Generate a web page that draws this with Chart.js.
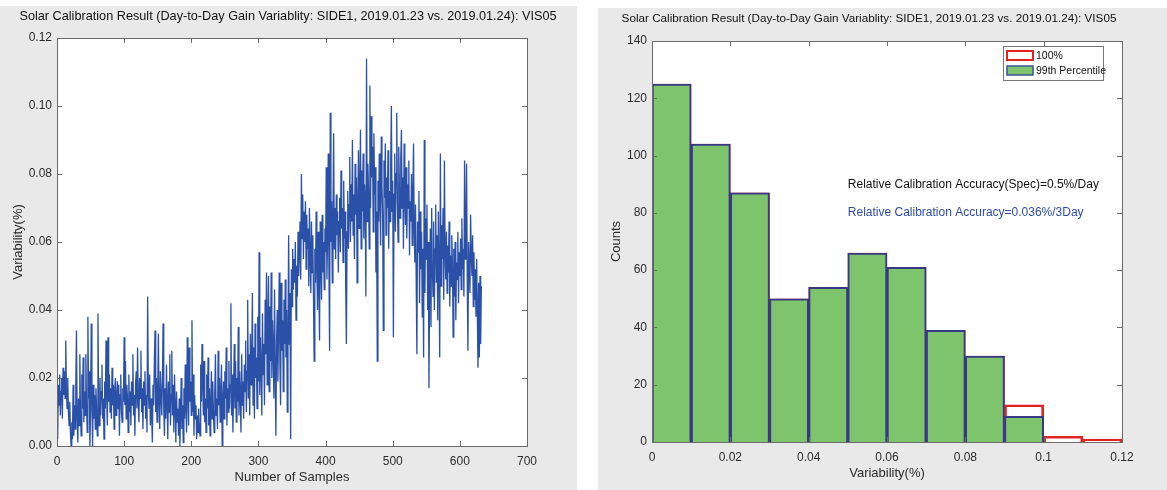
<!DOCTYPE html>
<html>
<head>
<meta charset="utf-8">
<script src="https://cdn.jsdelivr.net/npm/chart.js@4.4.1/dist/chart.umd.min.js"></script>
<style>
  html, body { margin: 0; padding: 0; background: #fff; }
  body { width: 1167px; height: 490px; position: relative; overflow: hidden; }
  .panel { position: absolute; background: #e9e9e9; }
  .panel canvas { display: block; }
  #left { left: 0; top: 6px; width: 577px; height: 484px; }
  #right { left: 598px; top: 8px; width: 569px; height: 482px; }
</style>
</head>
<body>
<div class="panel" id="left"><canvas id="lineChart" width="577" height="484"></canvas></div>
<div class="panel" id="right"><canvas id="histChart" width="569" height="482"></canvas></div>
<script>
const TITLE = "Solar Calibration Result (Day-to-Day Gain Variablity: SIDE1, 2019.01.23 vs. 2019.01.24): VIS05";

// day-to-day variability per sample (%)
const variability = [
  0.002, 0.018, 0.012, 0.021, 0.009, 0.016, 0.020, 0.008, 0.023, 0.015, 0.022, 0.014, 0.031, 0.017, 0.011, 0.020, 0.010, 0.006, 0.013, 0.004,
  0.000, 0.007, 0.002, 0.018, 0.003, 0.012, 0.005, 0.018, 0.034, 0.008, 0.001, 0.014, 0.006, 0.027, 0.009, 0.003, 0.021, 0.011, 0.026, 0.007,
  0.016, 0.009, 0.027, 0.012, 0.004, 0.038, 0.014, 0.022, 0.000, 0.010, 0.036, 0.013, 0.000, 0.018, 0.008, 0.015, 0.005, 0.017, 0.011, 0.003,
  0.039, 0.012, 0.006, 0.020, 0.009, 0.016, 0.024, 0.008, 0.014, 0.002, 0.019, 0.011, 0.031, 0.015, 0.006, 0.032, 0.013, 0.021, 0.010, 0.017,
  0.008, 0.023, 0.012, 0.018, 0.005, 0.016, 0.020, 0.009, 0.014, 0.019, 0.011, 0.018, 0.003, 0.015, 0.021, 0.010, 0.007, 0.017, 0.013, 0.032,
  0.012, 0.025, 0.008, 0.018, 0.014, 0.004, 0.021, 0.010, 0.016, 0.006, 0.019, 0.012, 0.027, 0.009, 0.015, 0.003, 0.018, 0.022, 0.011, 0.029,
  0.013, 0.007, 0.020, 0.014, 0.028, 0.010, 0.017, 0.005, 0.019, 0.012, 0.022, 0.008, 0.015, 0.004, 0.044, 0.016, 0.011, 0.021, 0.006, 0.014,
  0.009, 0.001, 0.018, 0.012, 0.025, 0.034, 0.010, 0.020, 0.007, 0.016, 0.033, 0.012, 0.005, 0.022, 0.015, 0.009, 0.019, 0.036, 0.011, 0.003,
  0.017, 0.008, 0.024, 0.013, 0.002, 0.019, 0.010, 0.027, 0.006, 0.015, 0.028, 0.009, 0.018, 0.004, 0.021, 0.012, 0.001, 0.016, 0.007, 0.011,
  0.003, 0.014, 0.000, 0.009, 0.020, 0.005, 0.012, 0.001, 0.017, 0.008, 0.024, 0.011, 0.004, 0.032, 0.015, 0.006, 0.029, 0.013, 0.019, 0.009,
  0.037, 0.010, 0.021, 0.003, 0.015, 0.008, 0.012, 0.002, 0.009, 0.004, 0.011, 0.006, 0.003, 0.024, 0.013, 0.030, 0.018, 0.009, 0.025, 0.007,
  0.014, 0.004, 0.021, 0.011, 0.026, 0.006, 0.017, 0.003, 0.013, 0.022, 0.008, 0.019, 0.010, 0.004, 0.016, 0.027, 0.009, 0.014, 0.005, 0.028,
  0.012, 0.020, 0.007, 0.016, 0.024, 0.000, 0.013, 0.019, 0.008, 0.022, 0.014, 0.029, 0.006, 0.017, 0.010, 0.025, 0.011, 0.018, 0.042, 0.009,
  0.021, 0.004, 0.016, 0.030, 0.011, 0.025, 0.007, 0.020, 0.013, 0.035, 0.009, 0.022, 0.015, 0.004, 0.027, 0.012, 0.019, 0.008, 0.024, 0.016,
  0.031, 0.010, 0.022, 0.043, 0.014, 0.027, 0.009, 0.033, 0.018, 0.025, 0.045, 0.012, 0.029, 0.008, 0.036, 0.020, 0.026, 0.011, 0.038, 0.019,
  0.057, 0.015, 0.032, 0.024, 0.009, 0.039, 0.021, 0.030, 0.012, 0.043, 0.027, 0.051, 0.018, 0.035, 0.050, 0.016, 0.041, 0.025, 0.051, 0.020,
  0.037, 0.029, 0.014, 0.046, 0.022, 0.003, 0.031, 0.040, 0.019, 0.034, 0.051, 0.024, 0.012, 0.048, 0.028, 0.037, 0.016, 0.043, 0.030, 0.049,
  0.026, 0.040, 0.010, 0.033, 0.062, 0.030, 0.045, 0.002, 0.052, 0.041, 0.058, 0.046, 0.055, 0.048, 0.060, 0.037, 0.053, 0.044, 0.063, 0.050,
  0.057, 0.066, 0.049, 0.080, 0.061, 0.074, 0.055, 0.069, 0.060, 0.072, 0.052, 0.068, 0.058, 0.064, 0.047, 0.070, 0.056, 0.045, 0.066, 0.051,
  0.062, 0.044, 0.025, 0.058, 0.048, 0.069, 0.053, 0.040, 0.063, 0.047, 0.031, 0.066, 0.055, 0.043, 0.068, 0.051, 0.060, 0.046, 0.064, 0.057,
  0.082, 0.049, 0.061, 0.086, 0.052, 0.028, 0.098, 0.060, 0.072, 0.048, 0.067, 0.092, 0.058, 0.070, 0.055, 0.074, 0.062, 0.069, 0.051, 0.066,
  0.073, 0.057, 0.081, 0.064, 0.070, 0.054, 0.078, 0.061, 0.069, 0.047, 0.030, 0.063, 0.075, 0.058, 0.071, 0.085, 0.060, 0.077, 0.066, 0.090,
  0.062, 0.074, 0.055, 0.083, 0.068, 0.079, 0.048, 0.071, 0.087, 0.064, 0.076, 0.093, 0.058, 0.081, 0.069, 0.086, 0.061, 0.077, 0.072, 0.044,
  0.114, 0.066, 0.083, 0.075, 0.058, 0.106, 0.070, 0.097, 0.079, 0.088, 0.063, 0.092, 0.074, 0.082, 0.051, 0.069, 0.025, 0.078, 0.066, 0.086,
  0.071, 0.059, 0.091, 0.077, 0.068, 0.034, 0.084, 0.073, 0.089, 0.062, 0.079, 0.070, 0.087, 0.058, 0.075, 0.066, 0.083, 0.100, 0.069, 0.078,
  0.032, 0.074, 0.086, 0.063, 0.080, 0.098, 0.071, 0.060, 0.088, 0.076, 0.067, 0.085, 0.093, 0.070, 0.079, 0.058, 0.089, 0.073, 0.065, 0.082,
  0.061, 0.077, 0.070, 0.084, 0.056, 0.072, 0.066, 0.080, 0.059, 0.074, 0.089, 0.063, 0.054, 0.071, 0.048, 0.027, 0.066, 0.057, 0.075, 0.042,
  0.069, 0.052, 0.063, 0.038, 0.058, 0.026, 0.090, 0.045, 0.067, 0.055, 0.071, 0.040, 0.060, 0.017, 0.049, 0.064, 0.035, 0.070, 0.053, 0.044,
  0.066, 0.040, 0.058, 0.071, 0.048, 0.062, 0.037, 0.069, 0.052, 0.026, 0.086, 0.047, 0.065, 0.055, 0.070, 0.043, 0.084, 0.057, 0.049, 0.063,
  0.045, 0.059, 0.051, 0.066, 0.041, 0.056, 0.047, 0.062, 0.053, 0.032, 0.058, 0.044, 0.060, 0.037, 0.054, 0.049, 0.063, 0.042, 0.057, 0.050,
  0.061, 0.046, 0.067, 0.052, 0.058, 0.044, 0.084, 0.055, 0.063, 0.083, 0.049, 0.028, 0.060, 0.053, 0.045, 0.068, 0.056, 0.050, 0.062, 0.041,
  0.057, 0.043, 0.052, 0.038, 0.055, 0.040, 0.023, 0.048, 0.026, 0.050, 0.030, 0.047
];
const sampleTicks = [0, 100, 200, 300, 400, 500, 600, 700];
const variabilityTicks = [0, 0.02, 0.04, 0.06, 0.08, 0.10, 0.12];

// histogram, 0.01 wide bins
const binCenters = [0.005, 0.015, 0.025, 0.035, 0.045, 0.055, 0.065, 0.075, 0.085, 0.095, 0.105, 0.115];
const counts100 = [125, 104, 87, 50, 54, 66, 61, 39, 30, 13, 2, 1];
const counts99 = [125, 104, 87, 50, 54, 66, 61, 39, 30, 9, 0, 0];
const binTicks = [0, 0.02, 0.04, 0.06, 0.08, 0.1, 0.12];
const countTicks = [0, 20, 40, 60, 80, 100, 120, 140];

const FONT = "'Liberation Sans', Arial, sans-serif";
const TEXT = "#2b2b2b";
const AXIS = "#6a6a6a";

// white axes box, ticks pointing inward on all four sides, title above
function matlabAxes(titleSize, titleShift) {
  return {
    id: "matlabAxes",
    beforeDraw(chart) {
      const { ctx, chartArea: a } = chart;
      ctx.save();
      ctx.fillStyle = "#fff";
      ctx.fillRect(a.left, a.top, a.right - a.left, a.bottom - a.top);
      ctx.restore();
    },
    afterDraw(chart) {
      const { ctx, chartArea: a, scales } = chart;
      const { x, y } = scales;
      ctx.save();
      ctx.strokeStyle = AXIS;
      ctx.lineWidth = 1;
      ctx.strokeRect(Math.round(a.left) + 0.5, Math.round(a.top) + 0.5, Math.round(a.right - a.left), Math.round(a.bottom - a.top));
      ctx.beginPath();
      x.ticks.forEach((t) => {
        const px = Math.round(x.getPixelForValue(t.value)) + 0.5;
        ctx.moveTo(px, a.bottom); ctx.lineTo(px, a.bottom - 5);
        ctx.moveTo(px, a.top); ctx.lineTo(px, a.top + 5);
      });
      y.ticks.forEach((t) => {
        const py = Math.round(y.getPixelForValue(t.value)) + 0.5;
        ctx.moveTo(a.left, py); ctx.lineTo(a.left + 5, py);
        ctx.moveTo(a.right, py); ctx.lineTo(a.right - 5, py);
      });
      ctx.stroke();
      ctx.fillStyle = "#111";
      ctx.font = titleSize + "px " + FONT;
      ctx.textAlign = "center";
      ctx.textBaseline = "middle";
      ctx.fillText(TITLE, (a.left + a.right) / 2 + titleShift, a.top - 22);
      ctx.restore();
    },
  };
}

const axisFont = { family: FONT, size: 12 };
const titleFont = { family: FONT, size: 13 };

new Chart(document.getElementById("lineChart"), {
  type: "line",
  data: {
    datasets: [
      {
        data: variability.map((v, i) => ({ x: i + 1, y: v })),
        borderColor: "#2a50a8",
        borderWidth: 1.3,
        pointRadius: 0,
        tension: 0,
      },
    ],
  },
  options: {
    responsive: false,
    animation: false,
    layout: { padding: { top: 32, right: 50, left: 0, bottom: 0 } },
    plugins: { legend: { display: false }, tooltip: { enabled: false } },
    scales: {
      x: {
        type: "linear",
        min: 0,
        max: 700,
        afterBuildTicks: (s) => { s.ticks = sampleTicks.map((v) => ({ value: v })); },
        afterFit: (s) => { s.height = 44; },
        grid: { display: false, drawTicks: false },
        border: { display: false },
        ticks: { color: TEXT, font: axisFont, padding: 8, maxRotation: 0 },
        title: { display: true, text: "Number of Samples", color: TEXT, font: titleFont, padding: { top: 0, bottom: 5 } },
      },
      y: {
        min: 0,
        max: 0.12,
        afterBuildTicks: (s) => { s.ticks = variabilityTicks.map((v) => ({ value: v })); },
        afterFit: (s) => { s.width = 57; },
        grid: { display: false, drawTicks: false },
        border: { display: false },
        ticks: { color: TEXT, font: axisFont, padding: 5, callback: (v) => v.toFixed(2) },
        title: { display: true, text: "Variability(%)", color: TEXT, font: titleFont, padding: { top: 11, bottom: 0 } },
      },
    },
  },
  plugins: [matlabAxes(12.7, -4)],
});

// legend box and the two accuracy notes inside the histogram axes
const histNotes = {
  id: "histNotes",
  afterDraw(chart) {
    const { ctx, chartArea: a, scales: { x, y } } = chart;
    ctx.save();
    ctx.font = "12px " + FONT;
    ctx.textAlign = "left";
    ctx.textBaseline = "middle";
    ctx.fillStyle = "#111";
    ctx.fillText("Relative Calibration Accuracy(Spec)=0.5%/Day", x.getPixelForValue(0.05), y.getPixelForValue(90));
    ctx.fillStyle = "#2d4ca8";
    ctx.fillText("Relative Calibration Accuracy=0.036%/3Day", x.getPixelForValue(0.05), y.getPixelForValue(80));

    const bw = 100, bh = 34;
    const bx = a.right - 19 - bw, by = a.top + 5;
    ctx.fillStyle = "#fff";
    ctx.fillRect(bx, by, bw, bh);
    ctx.strokeStyle = "#777";
    ctx.lineWidth = 1;
    ctx.strokeRect(bx + 0.5, by + 0.5, bw, bh);
    ctx.lineWidth = 2;
    ctx.strokeStyle = "#e02424";
    ctx.strokeRect(bx + 4, by + 5, 26, 9);
    ctx.fillStyle = "#7dc46c";
    ctx.fillRect(bx + 4, by + 20, 26, 9);
    ctx.lineWidth = 1.5;
    ctx.strokeStyle = "#3a5598";
    ctx.strokeRect(bx + 4, by + 20, 26, 9);
    ctx.fillStyle = "#111";
    ctx.font = "10.5px " + FONT;
    ctx.fillText("100%", bx + 33, by + 10);
    ctx.fillText("99th Percentile", bx + 33, by + 25);
    ctx.restore();
  },
};

new Chart(document.getElementById("histChart"), {
  type: "bar",
  data: {
    datasets: [
      {
        label: "100%",
        data: binCenters.map((c, i) => ({ x: c, y: counts100[i] })),
        backgroundColor: "rgba(255,255,255,0)",
        borderColor: "#e02424",
        borderWidth: 2,
        grouped: false,
        barPercentage: 1,
        categoryPercentage: 1,
        order: 2,
      },
      {
        label: "99th Percentile",
        data: binCenters.map((c, i) => ({ x: c, y: counts99[i] })),
        backgroundColor: "#7dc46c",
        borderColor: "#3a3886",
        borderWidth: 2,
        grouped: false,
        barPercentage: 1,
        categoryPercentage: 1,
        order: 1,
      },
    ],
  },
  options: {
    responsive: false,
    animation: false,
    layout: { padding: { top: 33, right: 45, left: 0, bottom: 0 } },
    plugins: { legend: { display: false }, tooltip: { enabled: false } },
    scales: {
      x: {
        type: "linear",
        min: 0,
        max: 0.12,
        offset: false,
        afterBuildTicks: (s) => { s.ticks = binTicks.map((v) => ({ value: v })); },
        afterFit: (s) => { s.height = 48; },
        grid: { display: false, offset: false, drawTicks: false },
        border: { display: false },
        ticks: { color: TEXT, font: axisFont, padding: 8, maxRotation: 0, callback: (v) => String(+v.toFixed(2)) },
        title: { display: true, text: "Variability(%)", color: TEXT, font: titleFont, padding: { top: 0, bottom: 9 } },
      },
      y: {
        min: 0,
        max: 140,
        afterBuildTicks: (s) => { s.ticks = countTicks.map((v) => ({ value: v })); },
        afterFit: (s) => { s.width = 54; },
        grid: { display: false, drawTicks: false },
        border: { display: false },
        ticks: { color: TEXT, font: axisFont, padding: 5 },
        title: { display: true, text: "Counts", color: TEXT, font: titleFont, padding: { top: 11, bottom: 0 } },
      },
    },
  },
  plugins: [matlabAxes(11.7, -18), histNotes],
});
</script>
</body>
</html>
